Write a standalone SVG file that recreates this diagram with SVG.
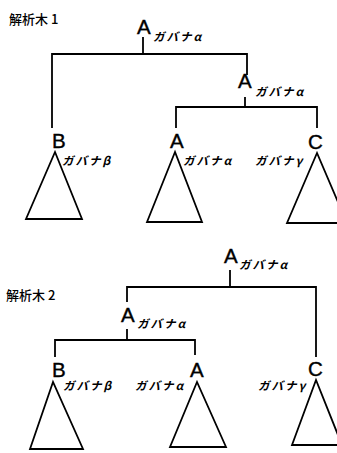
<svg xmlns="http://www.w3.org/2000/svg" width="337" height="453" viewBox="0 0 337 453">
<style>
.bg{fill:#fff}
.ln{fill:none;stroke:#000;stroke-width:1.8;stroke-linejoin:miter}
.big{font-family:"Liberation Sans",Arial,sans-serif;font-size:20.5px;fill:#000;stroke:#000;stroke-width:0.4}
.sm{font-family:"Noto Sans CJK JP","Liberation Sans",sans-serif;font-size:11.5px;font-style:italic;font-weight:bold;fill:#000;letter-spacing:2px}
.ttl{font-family:"Noto Sans CJK JP","Liberation Sans",sans-serif;font-size:13px;font-weight:500;fill:#000}
</style>
<rect class="bg" width="337" height="453"/>
<text class="ttl" x="9" y="24">解析木 1</text>
<text class="ttl" x="6" y="300">解析木 2</text>
<g id="connectors">
<path class="ln" d="M143,37 V54 M52,128 V54 H247 V75"/>
<path class="ln" d="M245,97 V107 M176,128 V107 H317 V128"/>
<path class="ln" d="M230,270 V287 M127,302 V287 H316 V357"/>
<path class="ln" d="M127,329 V340 M55,357 V340 H195 V355"/>
</g>
<g id="t1-A-root"><text class="big" x="137" y="34">A</text><text class="sm" x="153" y="41">ガバナα</text></g>
<g id="t1-A-sub"><text class="big" x="238" y="88">A</text><text class="sm" x="255" y="96">ガバナα</text></g>
<g id="t1-B"><text class="big" x="52" y="148">B</text><text class="sm" x="62" y="165">ガバナβ</text><polygon class="ln" points="55,152 26,219 82,219"/></g>
<g id="t1-A"><text class="big" x="170" y="148">A</text><text class="sm" x="183" y="165">ガバナα</text><polygon class="ln" points="175,152 147,222 202,222"/></g>
<g id="t1-C"><text class="big" x="308" y="149">C</text><text class="sm" x="255" y="165">ガバナγ</text><polygon class="ln" points="317,153 287,223 347,223"/></g>
<g id="t2-A-root"><text class="big" x="224" y="263">A</text><text class="sm" x="239" y="269">ガバナα</text></g>
<g id="t2-A-sub"><text class="big" x="121" y="322">A</text><text class="sm" x="137" y="328">ガバナα</text></g>
<g id="t2-B"><text class="big" x="52" y="377">B</text><text class="sm" x="63" y="390">ガバナβ</text><polygon class="ln" points="53,382 30,449 83,449"/></g>
<g id="t2-A"><text class="big" x="190" y="377">A</text><text class="sm" x="135" y="390">ガバナα</text><polygon class="ln" points="197,382 170,447 226,447"/></g>
<g id="t2-C"><text class="big" x="308" y="376">C</text><text class="sm" x="258" y="390">ガバナγ</text><polygon class="ln" points="316,380 292,445 342,445"/></g>
</svg>
